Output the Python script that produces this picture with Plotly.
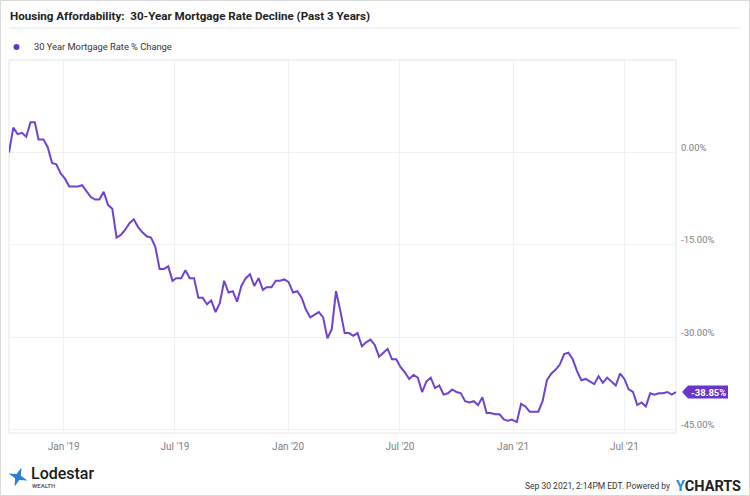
import math
import plotly.graph_objects as go

# ---------------- data ----------------
dates = [
    "2018-10-04", "2018-10-11", "2018-10-18", "2018-10-25", "2018-11-01", "2018-11-08", "2018-11-15",
    "2018-11-21", "2018-11-29", "2018-12-06", "2018-12-13", "2018-12-20", "2018-12-27",
    "2019-01-03", "2019-01-10", "2019-01-17", "2019-01-24", "2019-01-31", "2019-02-07", "2019-02-14",
    "2019-02-21", "2019-02-28", "2019-03-07", "2019-03-14", "2019-03-21", "2019-03-28", "2019-04-04",
    "2019-04-11", "2019-04-18", "2019-04-25", "2019-05-02", "2019-05-09", "2019-05-16", "2019-05-23",
    "2019-05-30", "2019-06-06", "2019-06-13", "2019-06-20", "2019-06-27", "2019-07-03", "2019-07-11",
    "2019-07-18", "2019-07-25", "2019-08-01", "2019-08-08", "2019-08-15", "2019-08-22", "2019-08-29",
    "2019-09-05", "2019-09-12", "2019-09-19", "2019-09-26", "2019-10-03", "2019-10-10", "2019-10-17",
    "2019-10-24", "2019-10-31", "2019-11-07", "2019-11-14", "2019-11-21", "2019-11-27", "2019-12-05",
    "2019-12-12", "2019-12-19", "2019-12-26",
    "2020-01-02", "2020-01-09", "2020-01-16", "2020-01-23", "2020-01-30", "2020-02-06", "2020-02-13",
    "2020-02-20", "2020-02-27", "2020-03-05", "2020-03-12", "2020-03-19", "2020-03-26", "2020-04-02",
    "2020-04-09", "2020-04-16", "2020-04-23", "2020-04-30", "2020-05-07", "2020-05-14", "2020-05-21",
    "2020-05-28", "2020-06-04", "2020-06-11", "2020-06-18", "2020-06-25", "2020-07-02", "2020-07-09",
    "2020-07-16", "2020-07-23", "2020-07-30", "2020-08-06", "2020-08-13", "2020-08-20", "2020-08-27",
    "2020-09-03", "2020-09-10", "2020-09-17", "2020-09-24", "2020-10-01", "2020-10-08", "2020-10-15",
    "2020-10-22", "2020-10-29", "2020-11-05", "2020-11-12", "2020-11-19", "2020-11-25", "2020-12-03",
    "2020-12-10", "2020-12-17", "2020-12-23", "2020-12-30",
    "2021-01-07", "2021-01-14", "2021-01-21", "2021-01-28", "2021-02-04", "2021-02-11", "2021-02-18",
    "2021-02-25", "2021-03-04", "2021-03-11", "2021-03-18", "2021-03-25", "2021-04-01", "2021-04-08",
    "2021-04-15", "2021-04-22", "2021-04-29", "2021-05-06", "2021-05-13", "2021-05-20", "2021-05-27",
    "2021-06-03", "2021-06-10", "2021-06-17", "2021-06-24", "2021-07-01", "2021-07-08", "2021-07-15",
    "2021-07-22", "2021-07-29", "2021-08-05", "2021-08-12", "2021-08-19", "2021-08-26", "2021-09-02",
    "2021-09-09", "2021-09-16", "2021-09-23",
]

# 30-year mortgage rate (%) (weekly)
rates = [
    4.71, 4.90, 4.85, 4.86, 4.83, 4.94, 4.94, 4.81, 4.81, 4.75, 4.63, 4.62, 4.55,
    4.51, 4.45, 4.45, 4.45, 4.46, 4.41, 4.37, 4.35, 4.35, 4.41, 4.31, 4.28, 4.06,
    4.08, 4.12, 4.17, 4.20, 4.14, 4.10, 4.07, 4.06, 3.99, 3.82, 3.82, 3.84, 3.73,
    3.75, 3.75, 3.81, 3.75, 3.75, 3.60, 3.60, 3.55, 3.58, 3.49, 3.56, 3.73, 3.64,
    3.65, 3.57, 3.69, 3.75, 3.78, 3.69, 3.75, 3.66, 3.68, 3.68, 3.73, 3.73, 3.74,
    3.72, 3.64, 3.65, 3.60, 3.51, 3.45, 3.47, 3.49, 3.45, 3.29, 3.36, 3.65, 3.50,
    3.33, 3.33, 3.31, 3.33, 3.23, 3.26, 3.28, 3.24, 3.15, 3.18, 3.21, 3.13, 3.13,
    3.07, 3.03, 2.98, 3.01, 2.99, 2.88, 2.96, 2.99, 2.91, 2.93, 2.86, 2.87, 2.90,
    2.88, 2.87, 2.81, 2.80, 2.81, 2.78, 2.84, 2.72, 2.72, 2.71, 2.71, 2.67, 2.66, 2.67,
    2.65, 2.79, 2.77, 2.73, 2.73, 2.73, 2.81, 2.97, 3.02, 3.05, 3.09, 3.17,
    3.18, 3.13, 3.04, 2.97, 2.98, 2.96, 2.94, 3.00, 2.95, 2.99, 2.96, 2.93, 3.02,
    2.98, 2.90, 2.88, 2.78, 2.80, 2.77, 2.87, 2.86, 2.87, 2.87, 2.88, 2.86, 2.88,
]

series_name = "30 Year Mortgage Rate % Change"
pct_change = [(r / rates[0] - 1.0) * 100.0 for r in rates]

x_tick_vals = ["2019-01-01", "2019-07-01", "2020-01-01", "2020-07-01", "2021-01-01", "2021-07-01"]
x_tick_text = ["Jan '19", "Jul '19", "Jan '20", "Jul '20", "Jan '21", "Jul '21"]
y_tick_vals = [0, -15, -30, -45]
y_tick_text = ["0.00%", "-15.00%", "-30.00%", "-45.00%"]
y_range = [-45.5, 15]

title_text = "Housing Affordability:\u00a0 30-Year Mortgage Rate Decline (Past 3 Years)"
footer_text = "Sep 30 2021, 2:14PM EDT. Powered by"

# ---------------- style ----------------
W, H = 750, 496
L, R, T, B = 9, 74, 60, 63
PW, PH = W - L - R, H - T - B
LINE_COLOR = "#6f42d2"
TAG_COLOR = "#6a35c9"
GRID = "#f0f0f0"
FRAME = "#e4e4e4"
FONT = "Roboto, 'Noto Sans', sans-serif"


def px(x):
    return (x - L) / PW


def py(y):
    return (H - B - y) / PH


fig = go.Figure()
fig.add_trace(go.Scatter(
    x=dates, y=pct_change, mode="lines", name=series_name,
    line=dict(color=LINE_COLOR, width=2), showlegend=False,
    hoverinfo="x+y",
))

shapes = []
annotations = []

# outer border
shapes.append(dict(type="rect", xref="paper", yref="paper",
                   x0=px(0.5), x1=px(W - 0.5), y0=py(0.5), y1=py(H - 0.5),
                   line=dict(color="#d9d9d9", width=1), fillcolor="rgba(0,0,0,0)", layer="below"))
# title separator
shapes.append(dict(type="line", xref="paper", yref="paper",
                   x0=px(9), x1=px(741), y0=py(28), y1=py(28),
                   line=dict(color="#e8e8e8", width=1)))
# plot frame
shapes.append(dict(type="rect", xref="paper", yref="paper", x0=0, x1=1, y0=0, y1=1,
                   line=dict(color=FRAME, width=1), layer="below"))
# legend dot
shapes.append(dict(type="circle", xref="paper", yref="paper",
                   x0=px(13.5), x1=px(19.5), y0=py(44), y1=py(50),
                   fillcolor="#6633cc", line=dict(width=0)))

# end-value tag (anchored to the last data point, which sits at the right edge of the x range)
last_x, last_y = dates[-1], pct_change[-1]
tag_y_paper = (last_y - y_range[0]) / (y_range[1] - y_range[0])
shapes.append(dict(type="path", xref="paper", yref="paper", xsizemode="pixel", ysizemode="pixel",
                   xanchor=1, yanchor=tag_y_paper,
                   path="M 6,0 L 12,6.5 L 52,6.5 L 52,-6.5 L 12,-6.5 Z",
                   fillcolor=TAG_COLOR, line=dict(width=0)))
annotations.append(dict(x=last_x, y=last_y, xref="x", yref="y", text="<b>%.2f%%</b>" % last_y,
                        showarrow=False, xanchor="center", yanchor="middle", xshift=32,
                        font=dict(family=FONT, size=9.5, color="white")))

# Lodestar star logo
cx, cy = 18.0, 477.0
pts = []
for i in range(8):
    ang = math.radians(-20 + 45 * i)
    rr = 10 if i % 2 == 0 else 3.2
    pts.append((px(cx + rr * math.cos(ang)), py(cy - rr * math.sin(ang))))
star_path = "M " + " L ".join("%.5f,%.5f" % p for p in pts) + " Z"
shapes.append(dict(type="path", xref="paper", yref="paper", path=star_path,
                   fillcolor="#2a7fd0", line=dict(width=0)))

# title
annotations.append(dict(xref="paper", yref="paper", x=px(8), y=py(16), xanchor="left", yanchor="middle",
                        text="<b>" + title_text + "</b>", showarrow=False,
                        font=dict(family=FONT, size=11.6, color="#222222")))
# legend text
annotations.append(dict(xref="paper", yref="paper", x=px(32), y=py(47), xanchor="left", yanchor="middle",
                        text=series_name, showarrow=False,
                        font=dict(family=FONT, size=9.3, color="#333333")))
# y tick labels
for v, t in zip(y_tick_vals, y_tick_text):
    annotations.append(dict(xref="paper", yref="y", x=1, y=v, xanchor="left", yanchor="middle",
                            xshift=3, yshift=5, text=t, showarrow=False,
                            font=dict(family=FONT, size=9.5, color="#808080")))
# logo text
annotations.append(dict(xref="paper", yref="paper", x=px(29), y=py(473), xanchor="left", yanchor="middle",
                        text="Lodestar", showarrow=False,
                        font=dict(family="Roboto, sans-serif", size=16, color="#1a1a1a", weight=500)))
annotations.append(dict(xref="paper", yref="paper", x=px(30), y=py(485.5), xanchor="left", yanchor="middle",
                        text="<b>WEALTH</b>", showarrow=False,
                        font=dict(family="Roboto, sans-serif", size=6, color="#666666")))
# footer
annotations.append(dict(xref="paper", yref="paper", x=px(672), y=py(486), xanchor="right", yanchor="middle",
                        text=footer_text, showarrow=False,
                        font=dict(family=FONT, size=8.5, color="#333333")))
annotations.append(dict(xref="paper", yref="paper", x=px(674), y=py(486), xanchor="left", yanchor="middle",
                        text="<b><span style='color:#2b86d8'>Y</span>CHARTS</b>", showarrow=False,
                        font=dict(family="Roboto, sans-serif", size=14.5, color="#222222")))

fig.update_layout(
    width=W, height=H,
    margin=dict(l=L, r=R, t=T, b=B),
    paper_bgcolor="white", plot_bgcolor="white",
    shapes=shapes, annotations=annotations,
    showlegend=False,
    xaxis=dict(type="date", range=[dates[0], dates[-1]], tickvals=x_tick_vals, ticktext=x_tick_text,
               showgrid=True, gridcolor=GRID, gridwidth=1, zeroline=False, showline=False,
               ticks="", ticklabelstandoff=6,
               tickfont=dict(family=FONT, size=10, color="#808080")),
    yaxis=dict(range=y_range, tickvals=y_tick_vals, showticklabels=False,
               showgrid=True, gridcolor=GRID, gridwidth=1, zeroline=False, showline=False,
               ticks="", side="right"),
)

fig.write_html("out.html")
